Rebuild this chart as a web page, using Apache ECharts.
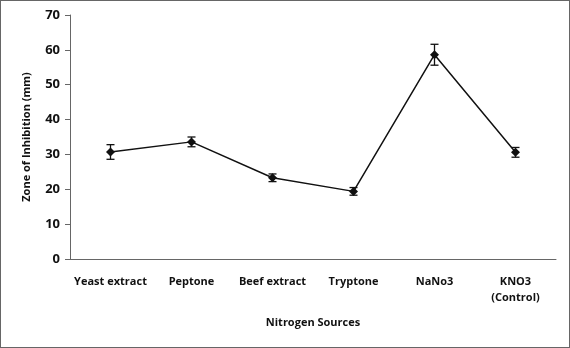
<!DOCTYPE html>
<html>
<head>
<meta charset="utf-8">
<script src="https://cdn.jsdelivr.net/npm/echarts@6/dist/echarts.min.js"></script>
<style>
  html, body { margin: 0; padding: 0; background: #fff; }
  #chart { width: 568px; height: 346px; border: 1px solid #666; }
</style>
</head>
<body>
<div id="chart"></div>
<script>
// 氮源种类
var sources = ['Yeast extract', 'Peptone', 'Beef extract', 'Tryptone', 'NaNo3', 'KNO3\n(Control)'];
// 抑菌圈直径 (mm)
var zoneValues = [30.7, 33.6, 23.3, 19.4, 58.6, 30.6];
// 误差
var zoneErrors = [2.1, 1.4, 1.1, 1.1, 3.0, 1.4];
var yTicks = [0, 10, 20, 30, 40, 50, 60, 70];

var chart = echarts.init(document.getElementById('chart'));

var errData = [];
for (var i = 0; i < sources.length; i++) {
    errData.push([i, zoneValues[i] - zoneErrors[i], zoneValues[i] + zoneErrors[i]]);
}

var option = {
    animation: false,
    grid: { left: 69, right: 13, top: 14, bottom: 88 },
    xAxis: {
        type: 'category',
        data: sources,
        name: 'Nitrogen Sources',
        nameLocation: 'middle',
        nameGap: 58,
        nameTextStyle: { fontFamily: 'Open Sans', fontWeight: 'bold', fontSize: 11, color: '#111' },
        axisLine: { lineStyle: { color: '#666', width: 1 } },
        axisTick: { show: false },
        axisLabel: {
            interval: 0,
            margin: 15,
            fontFamily: 'Open Sans', fontWeight: 'bold', fontSize: 11, color: '#111', lineHeight: 16
        }
    },
    yAxis: {
        type: 'value',
        min: yTicks[0],
        max: yTicks[yTicks.length - 1],
        interval: 10,
        name: 'Zone of Inhibition (mm)',
        nameLocation: 'middle',
        nameGap: 38,
        nameTextStyle: { fontFamily: 'Open Sans', fontWeight: 'bold', fontSize: 11, color: '#111' },
        axisLine: { show: true, lineStyle: { color: '#666', width: 1 } },
        axisTick: { show: true, length: 5, lineStyle: { color: '#666' } },
        splitLine: { show: false },
        axisLabel: { margin: 10, fontFamily: 'Open Sans', fontWeight: 'bold', fontSize: 13, color: '#111' }
    },
    series: [{
        type: 'line',
        data: zoneValues,
        symbol: 'diamond',
        symbolSize: 9,
        lineStyle: { color: '#111', width: 1.5 },
        itemStyle: { color: '#111' },
        z: 3
    }, {
        type: 'custom',
        data: errData,
        z: 4,
        renderItem: function (params, api) {
            var x = api.value(0);
            var lo = api.coord([x, api.value(1)]);
            var hi = api.coord([x, api.value(2)]);
            var w = 4;
            var st = { stroke: '#111', lineWidth: 1.3 };
            return {
                type: 'group',
                children: [
                    { type: 'line', shape: { x1: hi[0], y1: hi[1], x2: lo[0], y2: lo[1] }, style: st },
                    { type: 'line', shape: { x1: hi[0] - w, y1: hi[1], x2: hi[0] + w, y2: hi[1] }, style: st },
                    { type: 'line', shape: { x1: lo[0] - w, y1: lo[1], x2: lo[0] + w, y2: lo[1] }, style: st }
                ]
            };
        }
    }]
};

chart.setOption(option);
</script>
</body>
</html>
